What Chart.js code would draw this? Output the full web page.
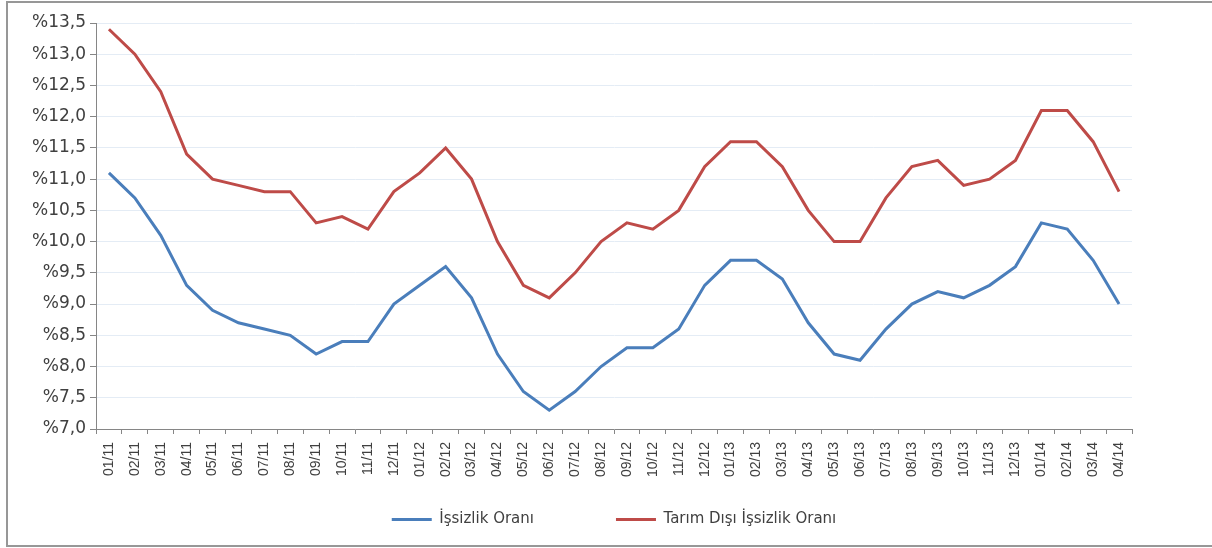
<!DOCTYPE html>
<html><head><meta charset="utf-8">
<script src="https://cdn.jsdelivr.net/npm/chart.js@4.4.0/dist/chart.umd.min.js"></script>
<style>
html,body{margin:0;padding:0;background:#fff;}
#wrap{position:relative;width:1212px;height:548px;overflow:hidden;}
#frame{position:absolute;left:6px;top:1px;width:1300px;height:546px;border:2px solid #979797;box-sizing:border-box;pointer-events:none;}
canvas{position:absolute;left:0;top:0;}
</style></head><body>
<div id="wrap"><canvas id="c" width="1212" height="548"></canvas><div id="frame"></div></div>
<script>
const categories = ['01/11','02/11','03/11','04/11','05/11','06/11','07/11','08/11','09/11','10/11','11/11','12/11',
  '01/12','02/12','03/12','04/12','05/12','06/12','07/12','08/12','09/12','10/12','11/12','12/12',
  '01/13','02/13','03/13','04/13','05/13','06/13','07/13','08/13','09/13','10/13','11/13','12/13',
  '01/14','02/14','03/14','04/14'];
const issizlikOrani = [11.1,10.7,10.1,9.3,8.9,8.7,8.6,8.5,8.2,8.4,8.4,9.0,
  9.3,9.6,9.1,8.2,7.6,7.3,7.6,8.0,8.3,8.3,8.6,9.3,
  9.7,9.7,9.4,8.7,8.2,8.1,8.6,9.0,9.2,9.1,9.3,9.6,
  10.3,10.2,9.7,9.0];
const tarimDisiIssizlikOrani = [13.4,13.0,12.4,11.4,11.0,10.9,10.8,10.8,10.3,10.4,10.2,10.8,
  11.1,11.5,11.0,10.0,9.3,9.1,9.5,10.0,10.3,10.2,10.5,11.2,
  11.6,11.6,11.2,10.5,10.0,10.0,10.7,11.2,11.3,10.9,11.0,11.3,
  12.1,12.1,11.6,10.8];
const seriesNames = ['İşsizlik Oranı','Tarım Dışı İşsizlik Oranı'];
const yTickValues = [7.0,7.5,8.0,8.5,9.0,9.5,10.0,10.5,11.0,11.5,12.0,12.5,13.0,13.5];
const fmtTick = v => '%' + Number(v).toFixed(1).replace('.', ',');

const axisColor = '#868686';
const gridColor = '#E4ECF5';

new Chart(document.getElementById('c'), {
  type: 'line',
  data: {
    labels: categories,
    datasets: [
      {label: seriesNames[0], data: issizlikOrani, borderColor: '#4A7EBB', backgroundColor: '#4A7EBB', borderWidth: 3, pointRadius: 0, tension: 0},
      {label: seriesNames[1], data: tarimDisiIssizlikOrani, borderColor: '#BE4B48', backgroundColor: '#BE4B48', borderWidth: 3, pointRadius: 0, tension: 0}
    ]
  },
  options: {
    responsive: false,
    animation: false,
    devicePixelRatio: 1,
    layout: {padding: {left: 0, top: 23, right: 80, bottom: 11}},
    plugins: {
      tooltip: {enabled: false},
      legend: {
        position: 'bottom',
        fullSize: false,
        labels: {
          usePointStyle: true,
          pointStyle: 'line',
          pointStyleWidth: 40,
          padding: 82,
          color: '#404040',
          font: {family: 'DejaVu Sans', size: 15}
        }
      }
    },
    scales: {
      x: {
        type: 'category',
        offset: true,
        afterFit: s => { s.height = 1; },
        grid: {display: true, drawOnChartArea: false, drawTicks: true, tickLength: 5, offset: true, tickColor: axisColor, color: axisColor},
        border: {display: true, color: axisColor, width: 1},
        ticks: {autoSkip: false, mirror: true, minRotation: 90, maxRotation: 90, padding: -13, labelOffset: 16.8, color: '#404040', font: {family: 'Liberation Sans', size: 14}}
      },
      y: {
        min: 7.0,
        max: 13.5,
        afterFit: s => { s.width = 96; },
        afterBuildTicks: s => { s.ticks = yTickValues.map(v => ({value: v})); },
        grid: {color: gridColor, lineWidth: 1, drawTicks: true, tickLength: 6, tickColor: axisColor},
        border: {display: true, color: axisColor, width: 1},
        ticks: {padding: 4, color: '#404040', font: {family: 'DejaVu Sans', size: 17}, callback: v => fmtTick(v)}
      }
    }
  }
});
</script>
</body></html>
